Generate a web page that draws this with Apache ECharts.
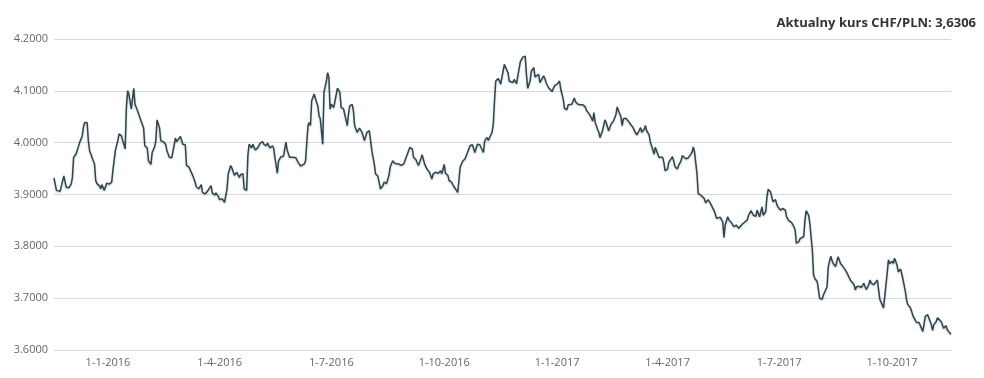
<!DOCTYPE html>
<html>
<head>
<meta charset="utf-8">
<script src="https://cdn.jsdelivr.net/npm/echarts@6/dist/echarts.min.js"></script>
<style>
  html, body { margin: 0; padding: 0; background: #fff; }
  #chart { width: 984px; height: 378px; }
</style>
</head>
<body>
<div id="chart"></div>
<script>
// kurs CHF/PLN, odczyty dzienne (data, kurs)
const rates2015 = [
  ['2015-11-18', 3.932], ['2015-11-20', 3.908], ['2015-11-23', 3.906], ['2015-11-26', 3.936],
  ['2015-11-28', 3.914], ['2015-11-30', 3.913], ['2015-12-02', 3.920], ['2015-12-03', 3.933],
  ['2015-12-04', 3.972], ['2015-12-06', 3.978], ['2015-12-07', 3.975], ['2015-12-09', 4.001],
  ['2015-12-11', 4.013], ['2015-12-12', 4.030], ['2015-12-13', 4.039], ['2015-12-15', 4.039],
  ['2015-12-16', 4.004], ['2015-12-17', 3.985], ['2015-12-20', 3.965], ['2015-12-21', 3.959],
  ['2015-12-22', 3.927], ['2015-12-23', 3.921], ['2015-12-25', 3.917], ['2015-12-26', 3.911],
  ['2015-12-27', 3.919], ['2015-12-29', 3.908], ['2015-12-31', 3.922]
];

const rates2016 = [
  ['2016-01-02', 3.920], ['2016-01-04', 3.924], ['2016-01-05', 3.946], ['2016-01-07', 3.985],
  ['2016-01-09', 4.004], ['2016-01-10', 4.017], ['2016-01-12', 4.013], ['2016-01-13', 4.004],
  ['2016-01-15', 3.988], ['2016-01-16', 4.068], ['2016-01-17', 4.100], ['2016-01-18', 4.094],
  ['2016-01-20', 4.065], ['2016-01-22', 4.105], ['2016-01-23', 4.074], ['2016-01-25', 4.062],
  ['2016-01-26', 4.063], ['2016-01-28', 4.042], ['2016-01-30', 4.029], ['2016-01-31', 3.994],
  ['2016-02-02', 3.990], ['2016-02-03', 3.965], ['2016-02-05', 3.958], ['2016-02-06', 3.981],
  ['2016-02-08', 3.992], ['2016-02-09', 4.004], ['2016-02-10', 4.044], ['2016-02-12', 4.029],
  ['2016-02-13', 4.004], ['2016-02-15', 4.002], ['2016-02-17', 3.997], ['2016-02-18', 3.985],
  ['2016-02-20', 3.972], ['2016-02-22', 3.971], ['2016-02-23', 3.969], ['2016-02-25', 4.009],
  ['2016-02-26', 4.002], ['2016-02-29', 4.012], ['2016-03-02', 3.997], ['2016-03-04', 3.996],
  ['2016-03-05', 3.956], ['2016-03-07', 3.953], ['2016-03-08', 3.954], ['2016-03-10', 3.937],
  ['2016-03-12', 3.924], ['2016-03-13', 3.915], ['2016-03-15', 3.911], ['2016-03-17', 3.919],
  ['2016-03-18', 3.904], ['2016-03-20', 3.901], ['2016-03-22', 3.906], ['2016-03-25', 3.917],
  ['2016-03-26', 3.903], ['2016-03-28', 3.899], ['2016-03-29', 3.903], ['2016-03-31', 3.896],
  ['2016-04-01', 3.890], ['2016-04-03', 3.892], ['2016-04-05', 3.885], ['2016-04-07', 3.911],
  ['2016-04-08', 3.940], ['2016-04-10', 3.956], ['2016-04-11', 3.951], ['2016-04-13', 3.937],
  ['2016-04-15', 3.943], ['2016-04-17', 3.933], ['2016-04-18', 3.938], ['2016-04-20', 3.940],
  ['2016-04-21', 3.911], ['2016-04-23', 3.908], ['2016-04-24', 3.975], ['2016-04-25', 3.997],
  ['2016-04-27', 3.990], ['2016-04-28', 3.997], ['2016-04-30', 3.986], ['2016-05-02', 3.990],
  ['2016-05-04', 3.999], ['2016-05-06', 4.002], ['2016-05-07', 3.997], ['2016-05-09', 3.994],
  ['2016-05-10', 3.999], ['2016-05-12', 3.990], ['2016-05-14', 3.994], ['2016-05-15', 3.990],
  ['2016-05-16', 3.972], ['2016-05-18', 3.941], ['2016-05-19', 3.965], ['2016-05-21', 3.973],
  ['2016-05-23', 3.974], ['2016-05-25', 4.001], ['2016-05-26', 3.986], ['2016-05-28', 3.972],
  ['2016-05-29', 3.971], ['2016-05-31', 3.972], ['2016-06-02', 3.971], ['2016-06-04', 3.962],
  ['2016-06-06', 3.955], ['2016-06-07', 3.954], ['2016-06-09', 3.959], ['2016-06-10', 3.965],
  ['2016-06-12', 4.033], ['2016-06-13', 4.039], ['2016-06-14', 4.033], ['2016-06-15', 4.081],
  ['2016-06-17', 4.094], ['2016-06-19', 4.078], ['2016-06-20', 4.071], ['2016-06-21', 4.052],
  ['2016-06-22', 4.046], ['2016-06-23', 4.049], ['2016-06-24', 3.997], ['2016-06-25', 4.097],
  ['2016-06-27', 4.119], ['2016-06-28', 4.135], ['2016-06-29', 4.126], ['2016-06-30', 4.065],
  ['2016-07-01', 4.074], ['2016-07-03', 4.068], ['2016-07-06', 4.105], ['2016-07-08', 4.097],
  ['2016-07-09', 4.068], ['2016-07-11', 4.065], ['2016-07-14', 4.033], ['2016-07-15', 4.055],
  ['2016-07-16', 4.071], ['2016-07-18', 4.074], ['2016-07-19', 4.062], ['2016-07-20', 4.033],
  ['2016-07-22', 4.020], ['2016-07-24', 4.028], ['2016-07-26', 4.020], ['2016-07-28', 4.004],
  ['2016-07-30', 4.020], ['2016-08-01', 4.023], ['2016-08-02', 4.026], ['2016-08-03', 3.985],
  ['2016-08-05', 3.959], ['2016-08-06', 3.940], ['2016-08-08', 3.935], ['2016-08-10', 3.911],
  ['2016-08-12', 3.917], ['2016-08-13', 3.924], ['2016-08-15', 3.921], ['2016-08-17', 3.937],
  ['2016-08-18', 3.953], ['2016-08-20', 3.965], ['2016-08-22', 3.960], ['2016-08-25', 3.959],
  ['2016-08-27', 3.956], ['2016-08-29', 3.959], ['2016-08-31', 3.972], ['2016-09-01', 3.978],
  ['2016-09-03', 3.991], ['2016-09-05', 3.988], ['2016-09-06', 3.972], ['2016-09-08', 3.967],
  ['2016-09-10', 3.956], ['2016-09-12', 3.969], ['2016-09-13', 3.977], ['2016-09-15', 3.959],
  ['2016-09-17', 3.949], ['2016-09-19', 3.943], ['2016-09-21', 3.930], ['2016-09-22', 3.940],
  ['2016-09-24', 3.943], ['2016-09-26', 3.941], ['2016-09-28', 3.946], ['2016-09-29', 3.940],
  ['2016-10-01', 3.958], ['2016-10-02', 3.941], ['2016-10-04', 3.937], ['2016-10-05', 3.927],
  ['2016-10-07', 3.924], ['2016-10-09', 3.915], ['2016-10-11', 3.908], ['2016-10-12', 3.904],
  ['2016-10-13', 3.927], ['2016-10-14', 3.953], ['2016-10-16', 3.964], ['2016-10-18', 3.969],
  ['2016-10-20', 3.981], ['2016-10-22', 3.994], ['2016-10-24', 3.996], ['2016-10-26', 3.981],
  ['2016-10-28', 3.997], ['2016-10-30', 3.996], ['2016-10-31', 3.997], ['2016-11-02', 3.981],
  ['2016-11-03', 4.004], ['2016-11-05', 4.010], ['2016-11-06', 4.004], ['2016-11-07', 4.010],
  ['2016-11-09', 4.020], ['2016-11-10', 4.036], ['2016-11-11', 4.081], ['2016-11-12', 4.119],
  ['2016-11-14', 4.124], ['2016-11-15', 4.119], ['2016-11-16', 4.113], ['2016-11-18', 4.138],
  ['2016-11-19', 4.151], ['2016-11-20', 4.153], ['2016-11-22', 4.135], ['2016-11-23', 4.119],
  ['2016-11-24', 4.122], ['2016-11-26', 4.116], ['2016-11-27', 4.122], ['2016-11-29', 4.114],
  ['2016-11-30', 4.129], ['2016-12-02', 4.156], ['2016-12-04', 4.165], ['2016-12-06', 4.167],
  ['2016-12-07', 4.132], ['2016-12-08', 4.105], ['2016-12-10', 4.119], ['2016-12-11', 4.138],
  ['2016-12-13', 4.145], ['2016-12-14', 4.127], ['2016-12-15', 4.124], ['2016-12-17', 4.132],
  ['2016-12-18', 4.116], ['2016-12-19', 4.113], ['2016-12-21', 4.129], ['2016-12-22', 4.124],
  ['2016-12-23', 4.116], ['2016-12-25', 4.106], ['2016-12-26', 4.103], ['2016-12-28', 4.099],
  ['2016-12-29', 4.105], ['2016-12-30', 4.110]
];

const rates2017 = [
  ['2017-01-01', 4.113], ['2017-01-03', 4.119], ['2017-01-04', 4.103], ['2017-01-06', 4.084],
  ['2017-01-07', 4.066], ['2017-01-09', 4.064], ['2017-01-10', 4.073], ['2017-01-13', 4.074],
  ['2017-01-15', 4.086], ['2017-01-16', 4.079], ['2017-01-18', 4.074], ['2017-01-20', 4.073],
  ['2017-01-22', 4.073], ['2017-01-24', 4.069], ['2017-01-25', 4.062], ['2017-01-27', 4.056],
  ['2017-01-28', 4.052], ['2017-01-30', 4.042], ['2017-01-31', 4.058], ['2017-02-01', 4.039],
  ['2017-02-03', 4.026], ['2017-02-04', 4.020], ['2017-02-05', 4.010], ['2017-02-07', 4.023],
  ['2017-02-09', 4.044], ['2017-02-10', 4.039], ['2017-02-12', 4.023], ['2017-02-13', 4.026],
  ['2017-02-14', 4.036], ['2017-02-16', 4.042], ['2017-02-18', 4.055], ['2017-02-19', 4.069],
  ['2017-02-20', 4.062], ['2017-02-22', 4.050], ['2017-02-23', 4.033], ['2017-02-24', 4.046],
  ['2017-02-26', 4.047], ['2017-02-27', 4.044], ['2017-02-28', 4.042], ['2017-03-02', 4.035],
  ['2017-03-04', 4.029], ['2017-03-05', 4.023], ['2017-03-07', 4.015], ['2017-03-09', 4.024],
  ['2017-03-10', 4.029], ['2017-03-11', 4.020], ['2017-03-13', 4.026], ['2017-03-14', 4.033],
  ['2017-03-15', 4.023], ['2017-03-17', 4.015], ['2017-03-18', 4.001], ['2017-03-19', 3.994],
  ['2017-03-21', 3.978], ['2017-03-22', 3.991], ['2017-03-23', 3.985], ['2017-03-25', 3.972],
  ['2017-03-26', 3.975], ['2017-03-28', 3.972], ['2017-03-29', 3.962], ['2017-03-30', 3.946],
  ['2017-04-01', 3.949], ['2017-04-02', 3.962], ['2017-04-03', 3.965], ['2017-04-05', 3.973],
  ['2017-04-06', 3.965], ['2017-04-07', 3.954], ['2017-04-09', 3.949], ['2017-04-10', 3.956],
  ['2017-04-12', 3.965], ['2017-04-13', 3.975], ['2017-04-14', 3.972], ['2017-04-16', 3.969],
  ['2017-04-17', 3.972], ['2017-04-18', 3.971], ['2017-04-20', 3.978], ['2017-04-21', 3.982],
  ['2017-04-22', 3.992], ['2017-04-23', 3.982], ['2017-04-25', 3.940], ['2017-04-26', 3.902],
  ['2017-04-28', 3.899], ['2017-04-29', 3.901], ['2017-05-01', 3.892], ['2017-05-02', 3.884],
  ['2017-05-04', 3.890], ['2017-05-06', 3.883], ['2017-05-08', 3.873], ['2017-05-09', 3.869],
  ['2017-05-11', 3.854], ['2017-05-12', 3.851], ['2017-05-14', 3.856], ['2017-05-16', 3.847],
  ['2017-05-17', 3.817], ['2017-05-18', 3.841], ['2017-05-20', 3.857], ['2017-05-21', 3.851],
  ['2017-05-23', 3.846], ['2017-05-25', 3.838], ['2017-05-27', 3.841], ['2017-05-29', 3.835],
  ['2017-05-30', 3.837], ['2017-06-01', 3.843], ['2017-06-03', 3.847], ['2017-06-05', 3.851],
  ['2017-06-06', 3.860], ['2017-06-08', 3.869], ['2017-06-10', 3.860], ['2017-06-12', 3.858],
  ['2017-06-13', 3.870], ['2017-06-15', 3.857], ['2017-06-17', 3.876], ['2017-06-18', 3.860],
  ['2017-06-20', 3.867], ['2017-06-21', 3.895], ['2017-06-22', 3.910], ['2017-06-24', 3.905],
  ['2017-06-25', 3.895], ['2017-06-26', 3.886], ['2017-06-28', 3.890], ['2017-06-29', 3.881],
  ['2017-06-30', 3.876], ['2017-07-02', 3.870], ['2017-07-04', 3.873], ['2017-07-06', 3.870],
  ['2017-07-07', 3.857], ['2017-07-09', 3.849], ['2017-07-10', 3.851], ['2017-07-11', 3.846],
  ['2017-07-13', 3.838], ['2017-07-14', 3.831], ['2017-07-15', 3.806], ['2017-07-17', 3.809],
  ['2017-07-18', 3.815], ['2017-07-19', 3.812], ['2017-07-21', 3.819], ['2017-07-22', 3.851],
  ['2017-07-23', 3.869], ['2017-07-25', 3.860], ['2017-07-26', 3.844], ['2017-07-28', 3.793],
  ['2017-07-29', 3.745], ['2017-07-30', 3.738], ['2017-08-01', 3.732], ['2017-08-02', 3.716],
  ['2017-08-03', 3.700], ['2017-08-05', 3.698], ['2017-08-06', 3.706], ['2017-08-07', 3.703],
  ['2017-08-09', 3.722], ['2017-08-10', 3.761], ['2017-08-12', 3.781], ['2017-08-13', 3.773],
  ['2017-08-14', 3.767], ['2017-08-16', 3.761], ['2017-08-17', 3.771], ['2017-08-18', 3.780],
  ['2017-08-20', 3.767], ['2017-08-21', 3.766], ['2017-08-22', 3.761], ['2017-08-24', 3.754],
  ['2017-08-25', 3.756], ['2017-08-26', 3.745], ['2017-08-28', 3.735], ['2017-08-29', 3.732],
  ['2017-08-31', 3.726], ['2017-09-01', 3.716], ['2017-09-02', 3.722], ['2017-09-04', 3.723],
  ['2017-09-05', 3.726], ['2017-09-06', 3.721], ['2017-09-08', 3.729], ['2017-09-09', 3.722],
  ['2017-09-10', 3.717], ['2017-09-12', 3.726], ['2017-09-13', 3.735], ['2017-09-14', 3.729],
  ['2017-09-16', 3.726], ['2017-09-17', 3.729], ['2017-09-19', 3.735], ['2017-09-20', 3.716],
  ['2017-09-21', 3.698], ['2017-09-23', 3.687], ['2017-09-24', 3.681], ['2017-09-25', 3.703],
  ['2017-09-27', 3.748], ['2017-09-28', 3.774], ['2017-09-29', 3.767], ['2017-10-01', 3.771],
  ['2017-10-02', 3.767], ['2017-10-03', 3.777], ['2017-10-05', 3.764], ['2017-10-06', 3.751],
  ['2017-10-08', 3.756], ['2017-10-09', 3.753], ['2017-10-10', 3.735], ['2017-10-12', 3.710],
  ['2017-10-13', 3.694], ['2017-10-14', 3.687], ['2017-10-16', 3.681], ['2017-10-17', 3.674],
  ['2017-10-18', 3.666], ['2017-10-20', 3.657], ['2017-10-21', 3.653], ['2017-10-23', 3.653],
  ['2017-10-24', 3.651], ['2017-10-26', 3.636], ['2017-10-27', 3.649], ['2017-10-28', 3.665],
  ['2017-10-30', 3.668], ['2017-10-31', 3.665], ['2017-11-02', 3.649], ['2017-11-03', 3.638],
  ['2017-11-04', 3.649], ['2017-11-06', 3.655], ['2017-11-07', 3.662], ['2017-11-08', 3.665],
  ['2017-11-10', 3.655], ['2017-11-11', 3.652], ['2017-11-12', 3.642], ['2017-11-14', 3.647],
  ['2017-11-15', 3.639], ['2017-11-16', 3.636], ['2017-11-17', 3.633], ['2017-11-18', 3.6306]
];

const currentRate = '3,6306';
const yMin = 3.6;
const yMax = 4.2;
const yStep = 0.1;

const rates = rates2015.concat(rates2016, rates2017);
const DAY = 24 * 3600 * 1000;

const chart = echarts.init(document.getElementById('chart'), null, { renderer: 'canvas' });

chart.setOption({
  animation: false,
  textStyle: { fontFamily: '"Open Sans", sans-serif' },
  title: {
    text: 'Aktualny kurs CHF/PLN: ' + currentRate,
    right: 3,
    top: 12,
    textStyle: { fontSize: 13, fontWeight: 'bold', color: '#333', fontFamily: '"Open Sans", sans-serif' }
  },
  grid: { left: 54, right: 33, top: 39, bottom: 28 },
  xAxis: {
    type: 'time',
    min: rates[0][0],
    max: rates[rates.length - 1][0],
    minInterval: 89 * DAY,
    maxInterval: 92 * DAY,
    axisLine: { show: false },
    axisTick: { show: false },
    splitLine: { show: false },
    axisLabel: {
      color: '#666',
      fontSize: 11,
      margin: 7,
      formatter: (val) => {
        const d = new Date(val);
        return d.getDate() + '-' + (d.getMonth() + 1) + '-' + d.getFullYear();
      }
    }
  },
  yAxis: {
    type: 'value',
    min: yMin,
    max: yMax,
    interval: yStep,
    axisLine: { show: false },
    axisTick: { show: false },
    axisLabel: {
      color: '#666',
      fontSize: 11,
      margin: 6,
      formatter: (v) => v.toFixed(4)
    },
    splitLine: { lineStyle: { color: '#d9d9d9', width: 1 } }
  },
  series: [
    {
      name: 'CHF/PLN',
      type: 'line',
      data: rates,
      symbol: 'none',
      lineStyle: {
        color: '#2b4650',
        width: 1.5,
        shadowColor: 'rgba(0, 0, 0, 0.25)',
        shadowBlur: 2,
        shadowOffsetY: 1
      }
    }
  ]
});
</script>
</body>
</html>
